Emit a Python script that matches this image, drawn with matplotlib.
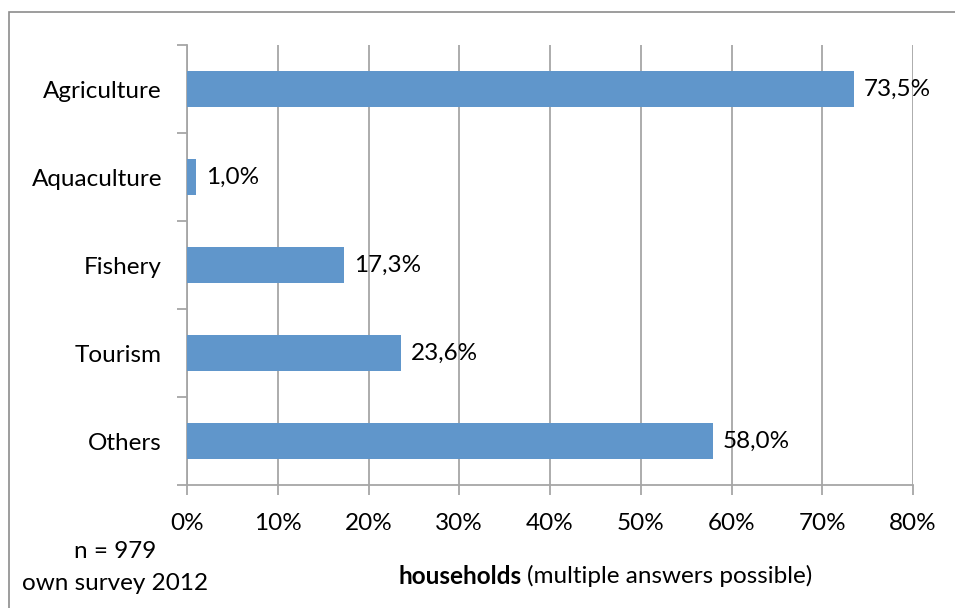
import matplotlib
matplotlib.use("Agg")
import matplotlib.pyplot as plt
from matplotlib.patches import Rectangle
from matplotlib.ticker import FixedLocator, PercentFormatter

categories = ["Agriculture", "Aquaculture", "Fishery", "Tourism", "Others"]
values = [73.5, 1.0, 17.3, 23.6, 58.0]
xticks = [0, 10, 20, 30, 40, 50, 60, 70, 80]

plt.rcParams['font.family'] = ['Lato', 'DejaVu Sans']
FS = 17.5
W, H = 955, 608
fig = plt.figure(figsize=(W/100, H/100), dpi=100)
fig.patch.set_facecolor('white')

# outer chart border
fig.add_artist(Rectangle((9/W, -0.05), 1.2, 1 - 12/H + 0.05, transform=fig.transFigure,
                         fill=False, edgecolor='#8c8c8c', linewidth=1.2))

ax = fig.add_axes([187/W, 1 - 485/H, (913-187)/W, (485-45)/H])
n = len(categories)
ypos = list(range(n))[::-1]
ax.barh(ypos, values, height=0.4, color='#6096CB', zorder=3)
ax.set_xlim(0, 80)
ax.set_ylim(-0.5, n - 0.5)
ax.set_xticks(xticks)
ax.xaxis.set_major_formatter(PercentFormatter(decimals=0))
ax.set_yticks(ypos)
ax.set_yticklabels(categories)
ax.yaxis.set_minor_locator(FixedLocator([i - 0.5 for i in range(n + 1)]))
ax.tick_params(axis='y', which='major', length=0, pad=18, labelsize=FS)
ax.tick_params(axis='y', which='minor', length=7, color='#a6a6a6', width=1.3)
ax.tick_params(axis='x', which='major', length=7, color='#a6a6a6', width=1.3, pad=13, labelsize=FS)
ax.grid(axis='x', color='#a6a6a6', linewidth=1.3, zorder=0)
for s in ['top', 'right']:
    ax.spines[s].set_visible(False)
for s in ['left', 'bottom']:
    ax.spines[s].set_color('#a6a6a6')
    ax.spines[s].set_linewidth(1.3)

for y, v in zip(ypos, values):
    ax.annotate(f"{v:.1f}%".replace('.', ','), (v, y), xytext=(7, 0), textcoords='offset points',
                va='center', ha='left', fontsize=FS, zorder=4)

fig.text(115/W, 1 - 552/H, "n = 979", ha='center', va='center', fontsize=FS)
fig.text(115/W, 1 - 583/H, "own survey 2012", ha='center', va='center', fontsize=FS)
t1 = fig.text(398/W, 1 - 576/H, "households", ha='left', va='center', fontsize=FS, fontweight='bold')
fig.canvas.draw()
bb = t1.get_window_extent()
fig.text(bb.x1/W + 6/W, 1 - 576/H, "(multiple answers possible)", ha='left', va='center', fontsize=FS)

fig.savefig("out.png", dpi=100)
